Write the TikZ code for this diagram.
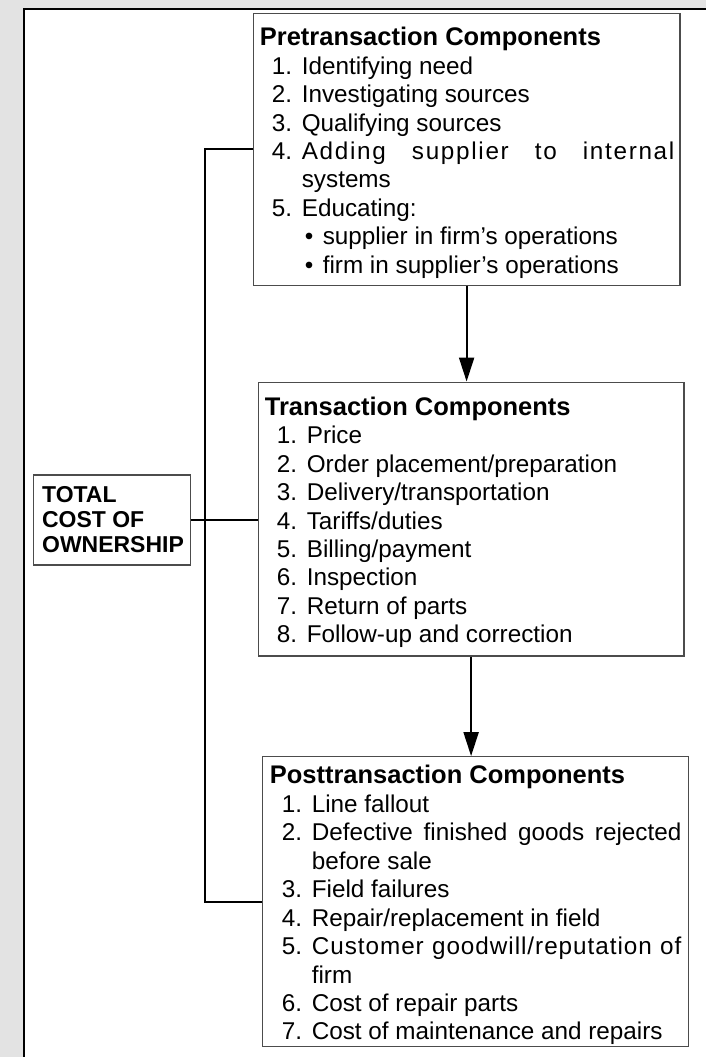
\documentclass[tikz,border=0pt]{standalone}
\usepackage{fontspec}
\setmainfont{Liberation Sans}
\usetikzlibrary{arrows.meta}

% list helpers: numbered item, continuation line, bullet line, spread line
\newcommand\numitem[2]{\hspace*{12pt}\makebox[30pt][l]{#1}#2}
\newcommand\contline[1]{\hspace*{42pt}#1}
\newcommand\bulitem[1]{\hspace*{45pt}\makebox[18pt][l]{\textbullet}#1}
\newcommand\spreadline[3]{{\addfontfeature{LetterSpace=#1}\makebox[#2][s]{#3}}}

\begin{document}
\begin{tikzpicture}[x=1pt,y=1pt,
  box/.style={draw=black!70, line width=1.3pt, rectangle, inner sep=0pt,
              anchor=north west, fill=white},
  listtext/.style={inner sep=0pt, anchor=north west, align=left,
                   font=\fontsize{24.3}{28.5}\selectfont},
  conn/.style={line width=2pt, black},
  flow/.style={line width=2pt, black, -{Triangle[width=15pt,length=24pt]}}]

% page frame
\fill[black!11] (0,0) rectangle (707,-1058);
\fill[white] (24,-9) rectangle (707,-1058);
\draw[line width=2.5pt] (24,-1058) -- (24,-9) -- (707,-9);
\useasboundingbox (0,0) rectangle (707,-1058);

% component boxes
\node[box, minimum width=427pt, minimum height=272pt] (pre) at (253,-13) {};
\node[box, minimum width=426pt, minimum height=274pt] (trans) at (258,-382) {};
\node[box, minimum width=427pt, minimum height=290pt] (post) at (262,-757) {};
\node[box, minimum width=157pt, minimum height=90pt] (tco) at (33,-475) {};

% box contents
\node[listtext] (pretext) at ([shift={(7,-14)}]pre.north west) {%
  {\fontsize{25.5}{28.5}\selectfont\bfseries Pretransaction Components}\\
  \numitem{1.}{Identifying need}\\
  \numitem{2.}{Investigating sources}\\
  \numitem{3.}{Qualifying sources}\\
  \numitem{4.}{\spreadline{7}{373pt}{Adding supplier to internal}}\\
  \contline{systems}\\
  \numitem{5.}{Educating:}\\
  \bulitem{supplier in firm's operations}\\
  \bulitem{firm in supplier's operations}};

\node[listtext] (transtext) at ([shift={(7,-15)}]trans.north west) {%
  {\fontsize{25.5}{28.5}\selectfont\bfseries Transaction Components}\\
  \numitem{1.}{Price}\\
  \numitem{2.}{Order placement/preparation}\\
  \numitem{3.}{Delivery/transportation}\\
  \numitem{4.}{Tariffs/duties}\\
  \numitem{5.}{Billing/payment}\\
  \numitem{6.}{Inspection}\\
  \numitem{7.}{Return of parts}\\
  \numitem{8.}{Follow-up and correction}};

\node[listtext] (posttext) at ([shift={(8,-9)}]post.north west) {%
  {\fontsize{25.5}{28.5}\selectfont\bfseries Posttransaction Components}\\
  \numitem{1.}{Line fallout}\\
  \numitem{2.}{\spreadline{0}{370pt}{Defective finished goods rejected}}\\
  \contline{before sale}\\
  \numitem{3.}{Field failures}\\
  \numitem{4.}{Repair/replacement in field}\\
  \numitem{5.}{\spreadline{4}{370pt}{Customer goodwill/reputation of}}\\
  \contline{firm}\\
  \numitem{6.}{Cost of repair parts}\\
  \numitem{7.}{Cost of maintenance and repairs}};

\node[inner sep=0pt, anchor=north west, align=left,
      font=\fontsize{23}{25}\selectfont\bfseries] (tcotext)
  at ([shift={(9,-12)}]tco.north west) {TOTAL\\COST OF\\OWNERSHIP};

% connectors
\draw[conn] (pre.west) -- ++(-48,0) |- (post.west);
\draw[conn] (tco.east) -- (tco.east -| trans.west);
\draw[flow] (pre.south) -- (pre.south |- trans.north);
\draw[flow] (trans.south) -- (trans.south |- post.north);
\end{tikzpicture}
\end{document}
